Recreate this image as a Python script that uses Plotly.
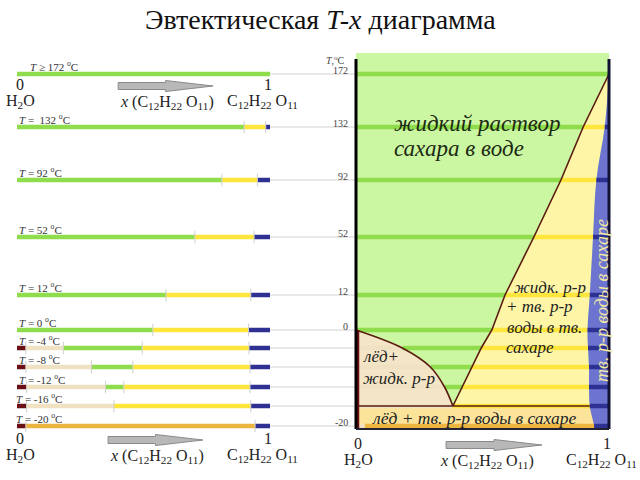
import numpy as np
import plotly.graph_objects as go

# ---------------- data ----------------
T_rows = [172, 132, 92, 52, 12, 0, -4, -8, -12, -16, -20]
row_labels = ["<i>T</i> ≥ 172 <sup>o</sup>C", "<i>T</i> =  132 <sup>o</sup>C", "<i>T</i> = 92 <sup>o</sup>C",
              "<i>T</i> = 52 <sup>o</sup>C", "<i>T</i> = 12 <sup>o</sup>C", "<i>T</i> = 0 <sup>o</sup>C",
              "<i>T</i> = -4 <sup>o</sup>C", "<i>T</i> = -8 <sup>o</sup>C", "<i>T</i> = -12 <sup>o</sup>C",
              "<i>T</i> = -16 <sup>o</sup>C", "<i>T</i> = -20 <sup>o</sup>C"]
ice_end     = [0, 0, 0, 0, 0, 0, 0.035, 0.035, 0.038, 0.038, 0.035]
ice_liq_end = [0, 0, 0, 0, 0, 0, 0.183, 0.294, 0.350, 0.383, 0.035]
liq_end     = [1.0, 0.898, 0.810, 0.703, 0.589, 0.537, 0.495, 0.458, 0.422, 0.383, 0.035]
solid_end   = [1.0, 0.983, 0.950, 0.937, 0.924, 0.915, 0.917, 0.921, 0.921, 0.924, 0.941]
T_eutectic = -16
axis_ticks_T = [172, 132, 92, 52, 12, 0, -20]

# ---------------- layout (schematic, non-linear temperature placement) ----------------
ROW_POS = [74, 127, 180, 237, 295, 330, 348, 367, 387, 406, 426]
PANEL_TOP, PANEL_BOTTOM = 53, 429

C_L, C_Y, C_S, C_IL, C_I, C_E = "#8fdc4c", "#ffe63c", "#2e3192", "#efe1c2", "#6b0f14", "#ebb540"
BG_L, BG_Y, BG_S, BG_IL, BG_E = "#ccf7a2", "#fff5a6", "#6c74cf", "#f4e5c6", "#fbe39a"
LINE_C = "#5a1c10"
SERIF = "Liberation Serif, Times New Roman, DejaVu Serif, serif"


def ypos(T):
    return np.interp(-np.asarray(T, float), -np.asarray(T_rows, float), ROW_POS)


fig = go.Figure()


def add(x, y, xa, **kw):
    fig.add_trace(go.Scatter(x=x, y=y, xaxis=xa, yaxis="y", mode="lines",
                             hoverinfo="skip", showlegend=False, **kw))


# ---------- right panel: phase regions ----------
add([0, 1, 1, 0, 0], [PANEL_TOP, PANEL_TOP, PANEL_BOTTOM, PANEL_BOTTOM, PANEL_TOP], "x2",
    fill="toself", fillcolor=BG_L, line=dict(width=0))
ie = T_rows.index(T_eutectic)
ye = float(ypos(T_eutectic))
add([0, 1, 1, 0, 0], [ye, ye, PANEL_BOTTOM, PANEL_BOTTOM, ye], "x2",
    fill="toself", fillcolor=BG_E, line=dict(width=0))
# liquid + solid solution (yellow)
add(solid_end[:ie + 1], ypos(T_rows[:ie + 1]), "x2", line=dict(width=0, shape="spline"))
add(liq_end[:ie + 1], ypos(T_rows[:ie + 1]), "x2", fill="tonextx", fillcolor=BG_Y, line=dict(width=0))
# ice + liquid (beige)
iz = T_rows.index(0)
add(ice_liq_end[iz:ie + 1], ypos(T_rows[iz:ie + 1]), "x2", fill="tozerox", fillcolor=BG_IL,
    line=dict(width=0, shape="spline"))
# solid solution of water in sugar (blue)
add([1, 1], [float(ypos(T_rows[0])), PANEL_BOTTOM], "x2", line=dict(width=0))
add(solid_end + [solid_end[-1]], list(ypos(T_rows)) + [PANEL_BOTTOM], "x2", fill="tonextx",
    fillcolor=BG_S, line=dict(width=0, shape="spline"))

# ---------- gray connector lines ----------
for T in T_rows:
    y = float(ypos(T))
    add([1.0, 1.3], [y, y], "x", line=dict(color="#d2d2d2", width=1))
    add([-0.3, 0.0], [y, y], "x2", line=dict(color="#d2d2d2", width=1))


# ---------- bars (left) and stripes (right) ----------
def segments(i, right):
    T = T_rows[i]
    segs = []
    if not right:
        segs.append((0, ice_end[i], C_I))
        segs.append((ice_end[i], ice_liq_end[i], C_IL))
    else:
        segs.append((0, ice_liq_end[i], C_IL))
    segs.append((ice_liq_end[i], liq_end[i], C_L))
    segs.append((liq_end[i], solid_end[i], C_E if T < T_eutectic else C_Y))
    segs.append((solid_end[i], 1.0, C_S))
    return [s for s in segs if s[1] - s[0] > 1e-6]


for xa, right in (("x", False), ("x2", True)):
    by_color = {}
    ticks_x, ticks_y = [], []
    for i, T in enumerate(T_rows):
        y = float(ypos(T))
        for a, b, c in segments(i, right):
            by_color.setdefault(c, ([], []))
            by_color[c][0].extend([a, b, None])
            by_color[c][1].extend([y, y, None])
            if not right and 0 < b < 1:
                ticks_x.append(b)
                ticks_y.append(y)
    for c, (xs, ys) in by_color.items():
        add(xs, ys, xa, line=dict(color=c, width=4.5))
    if ticks_x:
        fig.add_trace(go.Scatter(x=ticks_x, y=ticks_y, xaxis=xa, yaxis="y", mode="markers",
                                 marker=dict(symbol="line-ns-open", size=9, color="#cfcfcf",
                                             line=dict(color="#cfcfcf", width=1)),
                                 hoverinfo="skip", showlegend=False))

# ---------- right panel boundary lines ----------
add(liq_end[:ie + 1], ypos(T_rows[:ie + 1]), "x2", line=dict(color=LINE_C, width=1.6))
add(ice_liq_end[iz:ie + 1], ypos(T_rows[iz:ie + 1]), "x2", line=dict(color=LINE_C, width=1.6, shape="spline"))
add([0, solid_end[ie]], [ye, ye], "x2", line=dict(color=LINE_C, width=1.6))
add([0.006, 0.006], [float(ypos(0)), PANEL_BOTTOM], "x2", line=dict(color=C_I, width=3.5))
add([0, 0], [PANEL_TOP + 6, PANEL_BOTTOM], "x2", line=dict(color="#000000", width=3))
add([1, 1], [PANEL_TOP + 6, PANEL_BOTTOM], "x2", line=dict(color="#111133", width=3))
add([0, 1], [PANEL_BOTTOM, PANEL_BOTTOM], "x2", line=dict(color="#222233", width=2))

# ---------- text ----------
ann = []


def text(x, y, s, size, xref="x", xanchor="center", color="#222222", **kw):
    ann.append(dict(x=x, y=y, xref=xref, yref="y", text=s, showarrow=False, xanchor=xanchor,
                    yanchor="middle", font=dict(family=SERIF, size=size, color=color), **kw))


for i, T in enumerate(T_rows):
    xs = 0.043 if T == 172 else (-0.012 if T <= -16 else 0.0)
    text(xs, float(ypos(T)) - 8, row_labels[i], 11, xanchor="left", color="#333333")

H2O = "H<sub>2</sub>O"
SUG = "C<sub>12</sub>H<sub>22</sub> O<sub>11</sub>"
XS = "<i>x</i> (C<sub>12</sub>H<sub>22</sub> O<sub>11</sub>)"
arrows = []
for xref, y0, x_text, arr in (("x", 84, 0.593, (0.40, 0.775)),
                              ("x", 438, 0.552, (0.36, 0.735)),
                              ("x2", 443, 0.518, (0.356, 0.735))):
    x0 = 0.012 if xref == "x" else 0.008
    text(x0, y0, "0", 16, xref)
    text(x0, y0 + 17, H2O, 16, xref)
    text(0.992, y0, "1", 16, xref)
    text(0.972, y0 + 17, SUG, 16, xref)
    text(x_text, y0 + 18, XS, 16, xref)
    a, b = arr
    m = a + (b - a) * 0.5
    ya = y0 + 2
    path = (f"M {a},{ya - 3.5} L {m},{ya - 3.5} L {m},{ya - 5.5} L {b},{ya} "
            f"L {m},{ya + 5.5} L {m},{ya + 3.5} L {a},{ya + 3.5} Z")
    arrows.append(dict(type="path", xref=xref, yref="y", path=path,
                       fillcolor="#b8b8b8", line=dict(color="#8a8a8a", width=1)))

# temperature axis labels of the right panel
text(-0.035, 60, "<i>T</i>,<sup>o</sup>C", 10, "x2", xanchor="right", color="#444444")
for T in axis_ticks_T:
    text(-0.025, float(ypos(T)) - 4, str(T), 10, "x2", xanchor="right", color="#444444")

# region labels
text(0.142, 123, "<i>жидкий раствор</i>", 23, "x2", xanchor="left", color="#1b2a12")
text(0.142, 148, "<i>сахара в воде</i>", 23, "x2", xanchor="left", color="#1b2a12")
text(0.615, 287, "<i>жидк. р-р</i>", 17, "x2", xanchor="left")
text(0.585, 306, "<i>+ тв. р-р</i>", 17, "x2", xanchor="left")
text(0.59, 327, "<i>воды в тв.</i>", 17, "x2", xanchor="left")
text(0.585, 347, "<i>сахаре</i>", 17, "x2", xanchor="left")
text(0.02, 356, "<i>лёд+</i>", 17, "x2", xanchor="left")
text(0.02, 378, "<i>жидк. р-р</i>", 17, "x2", xanchor="left")
text(0.055, 418, "<i>лёд + тв. р-р воды в сахаре</i>", 17.5, "x2", xanchor="left")
text(0.972, 300, "<i>тв. р-р воды в сахаре</i>", 18, "x2", color="#f3eaa4", textangle=-90)

ann.append(dict(x=0.5, y=1 - 20 / 480, xref="paper", yref="paper", showarrow=False,
                text="Эвтектическая <i>T-x</i> диаграмма", yanchor="middle",
                font=dict(family=SERIF, size=28, color="#111111")))

fig.update_layout(
    width=640, height=480, margin=dict(l=0, r=0, t=0, b=0),
    paper_bgcolor="white", plot_bgcolor="white", showlegend=False,
    xaxis=dict(domain=[0, 0.5], range=[-17 / 253, 303 / 253], visible=False, fixedrange=True),
    xaxis2=dict(domain=[0.5, 1], range=[-36 / 253, 284 / 253], anchor="y", visible=False, fixedrange=True),
    yaxis=dict(domain=[0, 1], range=[480, 0], visible=False, fixedrange=True),
    annotations=ann, shapes=arrows,
)

fig.write_html("out.html")
